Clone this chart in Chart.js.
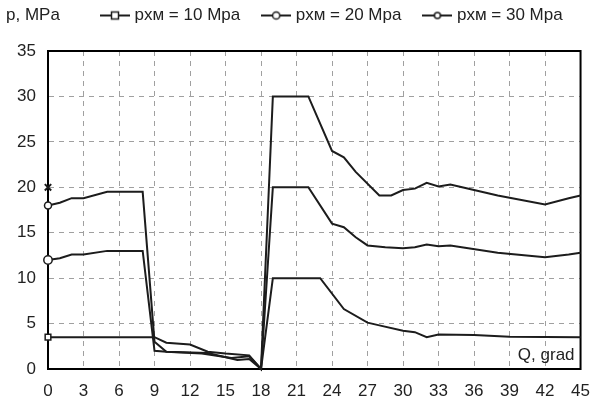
<!DOCTYPE html>
<html>
<head>
<meta charset="utf-8">
<script src="https://cdn.jsdelivr.net/npm/chart.js@4.4.0/dist/chart.umd.min.js"></script>
<style>
  html, body { margin: 0; padding: 0; background: #fff; }
</style>
</head>
<body>
<canvas id="grafTlaku" width="602" height="408"></canvas>
<script>
// nazvy rad
const nazvyRad = ["pxм = 10 Mpa", "pxм = 20 Mpa", "pxм = 30 Mpa"];

// rada 10 MPa
const q10 = [0, 9, 10, 12, 13.5, 15, 17, 18, 19, 23, 25, 27, 28, 30, 31, 32, 33, 36, 39, 45];
const p10 = [3.5, 3.5, 2.9, 2.7, 1.9, 1.7, 1.5, 0, 10, 10, 6.6, 5.1, 4.8, 4.2, 4.05, 3.5, 3.8, 3.75, 3.55, 3.5];

// rada 20 MPa
const q20 = [0, 1, 2, 3, 5, 8, 9, 10, 13.5, 16, 17, 18, 19, 22, 24, 25, 26, 27, 28.5, 30, 31, 32, 33, 34, 38, 42, 44, 45];
const p20 = [12, 12.2, 12.6, 12.6, 13, 13, 2.0, 1.9, 1.75, 1.0, 1.1, 0, 20, 20, 16, 15.6, 14.5, 13.6, 13.4, 13.3, 13.4, 13.7, 13.5, 13.6, 12.8, 12.3, 12.6, 12.8];

// rada 30 MPa
const q30 = [0, 1, 2, 3, 5, 8, 9, 10, 13, 15.5, 17, 18, 19, 22, 24, 25, 26, 28, 29, 30, 31, 32, 33, 34, 36, 38, 42, 44, 45];
const p30 = [18, 18.3, 18.8, 18.8, 19.5, 19.5, 3.0, 1.9, 1.7, 1.2, 1.4, 0, 30, 30, 24, 23.3, 21.7, 19.1, 19.1, 19.7, 19.85, 20.5, 20.1, 20.3, 19.7, 19.1, 18.1, 18.8, 19.1];

// samostatny krizek na ose
const qKriz = [0];
const pKriz = [20];

// osy
const qMin = 0, qMax = 45, qKrok = 3;
const pMin = 0, pMax = 35, pKrok = 5;

const pismo = '"Liberation Sans", Arial, sans-serif';
const barvaCary = "#1c1c1c";

function body(xs, ys) { return xs.map(function(x, i) { return { x: x, y: ys[i] }; }); }

function ikonaLegendy(tvar) {
    const c = document.createElement("canvas");
    c.width = 30; c.height = 12;
    const g = c.getContext("2d");
    g.strokeStyle = barvaCary; g.lineWidth = 2;
    g.beginPath(); g.moveTo(0, 6); g.lineTo(30, 6); g.stroke();
    g.fillStyle = "#fff"; g.lineWidth = 1.5;
    if (tvar === "rect") { g.fillRect(11.5, 2.5, 7, 7); g.strokeRect(11.5, 2.5, 7, 7); }
    else { const r = tvar === "big" ? 3.6 : 3; g.beginPath(); g.arc(15, 6, r, 0, Math.PI * 2); g.fill(); g.stroke(); }
    return c;
}
const ikony = [ikonaLegendy("rect"), ikonaLegendy("big"), ikonaLegendy("small")];

function rada(i, xs, ys, styl, r) {
    return {
        label: nazvyRad[i],
        data: body(xs, ys),
        borderColor: barvaCary, borderWidth: 2, tension: 0, clip: false,
        pointStyle: styl,
        pointRadius: function(ctx) { return ctx.dataIndex === 0 ? r : 0; },
        pointHoverRadius: 0,
        pointBackgroundColor: "#fff", pointBorderColor: barvaCary, pointBorderWidth: 1.5
    };
}

const ramecek = {
    id: "ramecek",
    beforeInit: function(chart) {
        const fit = chart.legend.fit;
        chart.legend.fit = function() { fit.call(chart.legend); this.height = 51; };
    },
    afterLayout: function(chart) {
        const l = chart.legend;
        l.left = 79; l.right = 602; l.top = -18; l.bottom = 33;
    },
    beforeDatasetsDraw: function(chart) {
        const ctx = chart.ctx, a = chart.chartArea;
        ctx.save();
        ctx.strokeStyle = "#000"; ctx.lineWidth = 2;
        ctx.strokeRect(a.left, a.top, a.right - a.left, a.bottom - a.top);
        ctx.restore();
    },
    afterDraw: function(chart) {
        const ctx = chart.ctx, a = chart.chartArea;
        ctx.save();
        ctx.fillStyle = "#222"; ctx.font = "17px " + pismo; ctx.textBaseline = "middle";
        ctx.textAlign = "left"; ctx.fillText("p, MPa", 6, 15);
        ctx.textAlign = "right"; ctx.fillText("Q, grad", a.right - 6, a.bottom - 14);
        ctx.restore();
    }
};

new Chart(document.getElementById("grafTlaku").getContext("2d"), {
    type: "line",
    data: {
        datasets: [
            rada(0, q10, p10, "rect", 4),
            rada(1, q20, p20, "circle", 4.2),
            rada(2, q30, p30, "circle", 3.5),
            {
                label: "x", data: body(qKriz, pKriz), showLine: false, clip: false,
                pointStyle: "crossRot", pointRadius: 4.5, pointBorderWidth: 2,
                pointBorderColor: barvaCary, borderColor: barvaCary
            }
        ]
    },
    options: {
        responsive: false, animation: false,
        layout: { padding: { left: 0, right: 15, top: 0, bottom: 0 } },
        plugins: {
            tooltip: { enabled: false },
            legend: {
                position: "top", align: "start",
                labels: {
                    usePointStyle: true, pointStyleWidth: 22, padding: 25,
                    color: "#222", font: { size: 17, family: pismo },
                    filter: function(item) { return item.datasetIndex < 3; },
                    generateLabels: function(chart) {
                        const items = Chart.defaults.plugins.legend.labels.generateLabels(chart);
                        items.forEach(function(it) { if (it.datasetIndex < 3) it.pointStyle = ikony[it.datasetIndex]; });
                        return items;
                    }
                }
            }
        },
        scales: {
            x: {
                type: "linear", min: qMin, max: qMax,
                afterFit: function(s) { s.height = 39; },
                ticks: { stepSize: qKrok, color: "#222", font: { size: 17, family: pismo }, padding: 12, maxRotation: 0 },
                grid: { color: "#a0a0a0", lineWidth: 1, drawTicks: false },
                border: { color: "#000", width: 2, dash: [5, 5] }
            },
            y: {
                min: pMin, max: pMax,
                afterFit: function(s) { s.width = 48; },
                ticks: { stepSize: pKrok, color: "#222", font: { size: 17, family: pismo }, padding: 12 },
                grid: { color: "#a0a0a0", lineWidth: 1, drawTicks: false },
                border: { color: "#000", width: 2, dash: [5, 5] }
            }
        }
    },
    plugins: [ramecek]
});
</script>
</body>
</html>
